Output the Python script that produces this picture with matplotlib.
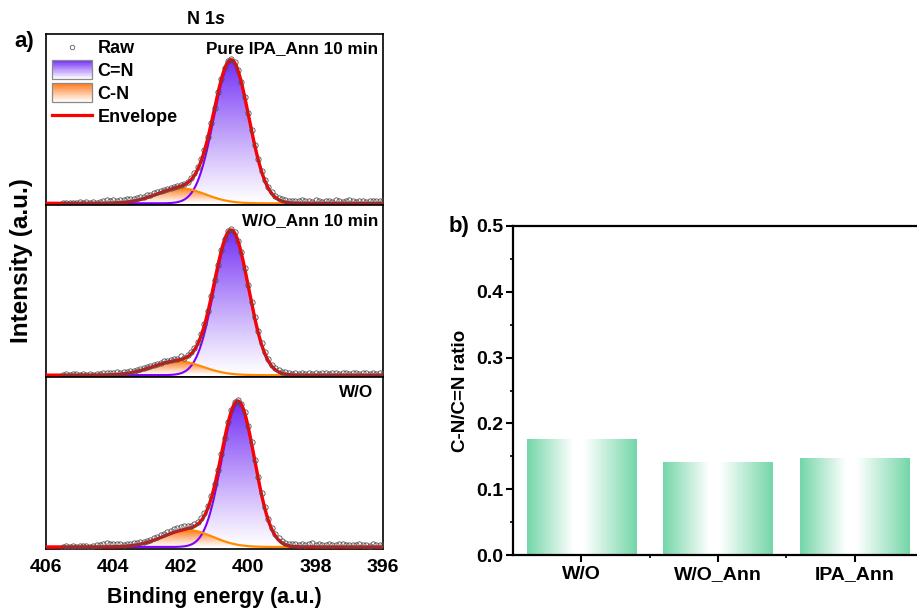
import numpy as np
import matplotlib
matplotlib.use('Agg')
import matplotlib.pyplot as plt
from matplotlib.colors import LinearSegmentedColormap, to_rgb
from matplotlib.patches import Rectangle
from matplotlib.lines import Line2D
from matplotlib.legend_handler import HandlerBase
from matplotlib.ticker import MultipleLocator, FixedLocator

plt.rcParams['font.family'] = ['Liberation Sans', 'DejaVu Sans']
plt.rcParams['font.weight'] = 'bold'
plt.rcParams['axes.labelweight'] = 'bold'

# ---------------- data ----------------
energy = [405.5, 405.4, 405.3, 405.2, 405.1, 405.0, 404.9, 404.8, 404.7, 404.6,
          404.5, 404.4, 404.3, 404.2, 404.1, 404.0, 403.9, 403.8, 403.7, 403.6,
          403.5, 403.4, 403.3, 403.2, 403.1, 403.0, 402.9, 402.8, 402.7, 402.6,
          402.5, 402.4, 402.3, 402.2, 402.1, 402.0, 401.9, 401.8, 401.7, 401.6,
          401.5, 401.4, 401.3, 401.2, 401.1, 401.0, 400.9, 400.8, 400.7, 400.6,
          400.5, 400.4, 400.3, 400.2, 400.1, 400.0, 399.9, 399.8, 399.7, 399.6,
          399.5, 399.4, 399.3, 399.2, 399.1, 399.0, 398.9, 398.8, 398.7, 398.6,
          398.5, 398.4, 398.3, 398.2, 398.1, 398.0, 397.9, 397.8, 397.7, 397.6,
          397.5, 397.4, 397.3, 397.2, 397.1, 397.0, 396.9, 396.8, 396.7, 396.6,
          396.5, 396.4, 396.3, 396.2, 396.1, 396.0]

raw_ipa_ann = [0.5, 0.3, 0.8, 0.2, 0.6, 1.2, 0.4, 0.9, 0.6, 1.1,
               0.8, 1.5, 2.8, 3.2, 2.4, 2.9, 2.1, 3.0, 3.5, 3.9,
               4.2, 4.6, 5.5, 6.1, 6.8, 7.9, 8.6, 9.9, 11.2, 12.3,
               13.4, 14.6, 15.2, 16.5, 17.0, 17.9, 19.0, 21.8, 25.2, 29.9,
               36.0, 44.1, 53.8, 66.0, 80.9, 95.5, 111.2, 124.5, 135.9, 142.3,
               144.5, 141.2, 133.1, 121.9, 106.8, 90.2, 73.6, 58.1, 44.0, 32.5,
               23.4, 16.2, 11.1, 7.6, 5.3, 3.9, 3.1, 2.2, 2.8, 1.9,
               2.4, 3.1, 2.0, 2.6, 1.7, 3.2, 2.5, 1.8, 2.7, 2.2,
               1.5, 2.9, 2.1, 1.6, 2.4, 3.0, 2.0, 1.4, 2.6, 2.3,
               1.7, 2.8, 2.1, 2.5, 1.9, 2.6]

raw_wo_ann = [0.4, 0.9, 0.3, 0.7, 1.3, 0.5, 0.8, 0.4, 1.0, 0.6,
              1.2, 0.9, 2.0, 2.6, 1.8, 2.3, 2.9, 2.4, 3.1, 2.8,
              3.9, 4.5, 5.2, 5.9, 7.0, 8.2, 9.3, 10.1, 11.6, 12.5,
              13.8, 14.3, 15.6, 16.4, 15.8, 18.9, 17.5, 20.2, 22.8, 27.4,
              33.0, 41.5, 51.2, 64.1, 79.0, 94.8, 110.5, 125.6, 136.4, 143.9,
              146.8, 142.9, 134.6, 122.8, 107.3, 90.6, 73.5, 57.9, 43.8, 32.1,
              22.9, 15.8, 10.6, 7.1, 4.8, 3.6, 2.9, 2.1, 1.6, 2.3,
              1.4, 1.9, 1.2, 2.1, 1.5, 2.4, 1.1, 1.8, 2.6, 1.3,
              1.9, 2.2, 1.0, 1.7, 2.4, 1.5, 1.9, 2.6, 1.2, 1.8,
              2.3, 1.4, 2.0, 1.6, 2.2, 1.5]

raw_wo = [0.3, 0.7, 0.4, 1.0, 0.5, 1.4, 0.6, 0.9, 0.5, 1.1,
          1.6, 2.1, 3.4, 3.9, 2.8, 3.3, 2.6, 3.0, 2.4, 2.9,
          3.1, 3.6, 4.0, 4.6, 5.3, 6.4, 7.5, 8.6, 10.0, 11.7,
          13.2, 15.0, 16.1, 17.9, 19.2, 20.4, 21.1, 20.6, 21.5, 23.0,
          25.1, 28.6, 33.9, 41.2, 50.8, 63.0, 77.4, 93.5, 109.6, 124.8,
          136.9, 144.9, 147.3, 143.4, 134.8, 121.5, 105.0, 87.2, 69.9, 53.6,
          39.6, 28.2, 19.4, 13.0, 8.7, 5.9, 4.1, 3.2, 2.6, 3.4,
          2.5, 3.1, 2.2, 2.8, 3.6, 2.4, 2.9, 1.9, 2.5, 3.2,
          2.1, 1.7, 2.6, 3.0, 2.0, 2.4, 1.6, 2.2, 2.9, 1.8,
          2.3, 1.5, 2.7, 2.0, 1.7, 2.4]

panel_labels = ['Pure IPA_Ann 10 min', 'W/O_Ann 10 min', 'W/O']
# fitted component parameters (C=N and C-N) per panel: centre (eV), height, FWHM (eV)
cdn_center = [400.5, 400.5, 400.3]
cdn_height = [142.0, 144.0, 144.0]
cdn_fwhm = [1.22, 1.20, 1.15]
csn_center = [402.0, 402.1, 401.8]
csn_height = [15.0, 14.0, 17.0]
csn_fwhm = [1.70, 1.74, 1.74]

be_ticks = [406, 404, 402, 400, 398, 396]

ratio_categories = ['W/O', 'W/O_Ann', 'IPA_Ann']
ratio_values = [0.176, 0.141, 0.147]

raw_sets = [raw_ipa_ann, raw_wo_ann, raw_wo]

# ---------------- styling ----------------
PURPLE_FILL = '#7430f5'
PURPLE_LINE = '#7f00ff'
ORANGE_FILL = '#ff7a1e'
ORANGE_LINE = '#ff8c00'
GREEN = '#74d6a8'

W, H = 917, 614
fig = plt.figure(figsize=(W / 100, H / 100), dpi=100)


def gauss(x, c, h, fwhm):
    s = fwhm / 2.3548
    return h * np.exp(-(x - c) ** 2 / (2 * s * s))


def gradient_fill(ax, x, y, color, zorder):
    poly = ax.fill_between(x, 0, y, facecolor='none', edgecolor='none')
    rgb = np.array(to_rgb(color))
    n = 256
    t = np.linspace(0, 1, n)[:, None, None] ** 1.1
    img = (1 - t) * np.ones((1, 1, 3)) + t * rgb[None, None, :]
    im = ax.imshow(img, origin='lower', aspect='auto',
                   extent=[x.min(), x.max(), 0, y.max()], zorder=zorder,
                   interpolation='bilinear')
    im.set_clip_path(poly.get_paths()[0], transform=ax.transData)


class GradientPatch:
    def __init__(self, color):
        self.color = color


class HandlerGradient(HandlerBase):
    def create_artists(self, legend, orig_handle, xdescent, ydescent,
                       width, height, fontsize, trans):
        n = 24
        h = height * 1.45
        y0 = -ydescent - (h - height) / 2
        rgb = np.array(to_rgb(orig_handle.color))
        arts = []
        for i in range(n):
            f = (i + 0.5) / n
            c = (1 - f) * np.ones(3) + f * rgb
            arts.append(Rectangle((-xdescent, y0 + i * h / n), width, h / n * 1.05,
                                  facecolor=c, edgecolor='none', transform=trans))
        arts.append(Rectangle((-xdescent, y0), width, h, facecolor='none',
                              edgecolor='#8a8a8a', lw=0.9, transform=trans))
        return arts


# ---------------- panel a ----------------
ax_left = 46 / W
ax_w = (383 - 46) / W
top_px, bot_px = 33.5, 549.0
ph = (bot_px - top_px) / 3
x_fit = np.linspace(406, 396, 1001)
e_arr = np.array(energy)

axes_a = []
for i in range(3):
    y_bottom = 1 - (top_px + (i + 1) * ph) / H
    ax = fig.add_axes([ax_left, y_bottom, ax_w, ph / H])
    axes_a.append(ax)
    cdn = gauss(x_fit, cdn_center[i], cdn_height[i], cdn_fwhm[i])
    csn = gauss(x_fit, csn_center[i], csn_height[i], csn_fwhm[i])
    env = cdn + csn
    gradient_fill(ax, x_fit, cdn, PURPLE_FILL, 1)
    gradient_fill(ax, x_fit, csn, ORANGE_FILL, 1.1)
    ax.plot(x_fit, cdn, color=PURPLE_LINE, lw=1.5, zorder=2)
    ax.plot(x_fit, csn, color=ORANGE_LINE, lw=1.6, zorder=2.1)
    ax.plot(x_fit, env, color='#ff0000', lw=2.4, zorder=3)
    ax.plot(e_arr, raw_sets[i], ls='none', marker='o', ms=3.8, mfc='none',
            mec='#505050', mew=0.6, zorder=4)
    ax.set_xlim(406, 396)
    ax.set_ylim(-2, 170)
    ax.set_yticks([])
    ax.tick_params(axis='x', length=0, labelsize=14, pad=7)
    ax.set_xticks(be_ticks)
    for sp in ax.spines.values():
        sp.set_linewidth(1.2)
    if i < 2:
        ax.tick_params(axis='x', labelbottom=False)
    xt = 0.985 if i < 2 else 0.97
    ax.text(xt, 0.91, panel_labels[i], transform=ax.transAxes, ha='right',
            va='center', fontsize=12.3, fontweight='bold')

axes_a[2].set_xticklabels([str(t) for t in be_ticks], fontweight='bold')

handles = [Line2D([], [], ls='none', marker='o', ms=3.2, mfc='none', mec='#606060', mew=0.6),
           GradientPatch(PURPLE_FILL), GradientPatch(ORANGE_FILL),
           Line2D([], [], color='#ff0000', lw=2.3)]
labels = ['Raw', 'C=N', 'C-N', 'Envelope']
leg = axes_a[0].legend(handles, labels, handler_map={GradientPatch: HandlerGradient()},
                       loc='upper left', bbox_to_anchor=(0.0, 1.0), frameon=False,
                       handlelength=2.2, handletextpad=0.3,
                       labelspacing=0.33, borderaxespad=0.15, borderpad=0.2,
                       prop={'weight': 'bold', 'size': 13})

# title N 1s
fig.text(215 / W, 1 - 20 / H, 'N 1', ha='right', va='center', fontsize=13,
         fontweight='bold')
fig.text(215 / W, 1 - 20 / H, 's', ha='left', va='center', fontsize=13,
         fontweight='bold', fontstyle='italic')

fig.text(24 / W, 1 - 42 / H, 'a)', ha='center', va='center', fontsize=16, fontweight='bold')
fig.text(22 / W, 1 - 261 / H, 'Intensity (a.u.)', rotation=90, ha='center', va='center',
         fontsize=17.5, fontweight='bold')
fig.text(214.5 / W, 1 - 598 / H, 'Binding energy (a.u.)', ha='center', va='center',
         fontsize=15.5, fontweight='bold')

# ---------------- panel b ----------------
bx0, bx1 = 513, 923
by_top, by_bot = 226, 555
axb = fig.add_axes([bx0 / W, 1 - by_bot / H, (bx1 - bx0) / W, (by_bot - by_top) / H])
xpos = np.arange(1, len(ratio_categories) + 1)
bars = axb.bar(xpos, ratio_values, width=0.8, facecolor='none', edgecolor='none')
bar_cmap = LinearSegmentedColormap.from_list(
    'bar', [(0.0, GREEN), (0.42, '#ffffff'), (0.52, '#ffffff'), (1.0, GREEN)])
grad = np.linspace(0, 1, 256)[None, :]
for b in bars:
    axb.imshow(grad, cmap=bar_cmap, aspect='auto', origin='lower',
               extent=[b.get_x(), b.get_x() + b.get_width(), 0, b.get_height()],
               zorder=1, interpolation='bilinear')
axb.set_xlim(0.5, 3.5)
axb.set_ylim(0, 0.5)
axb.set_xticks(xpos)
axb.set_xticklabels(ratio_categories, fontweight='bold')
axb.xaxis.set_minor_locator(FixedLocator([1.5, 2.5]))
axb.yaxis.set_major_locator(MultipleLocator(0.1))
axb.yaxis.set_minor_locator(MultipleLocator(0.05))
axb.tick_params(axis='both', which='major', direction='out', length=5, width=1.5,
                labelsize=14, pad=3)
axb.tick_params(axis='y', which='major', pad=2)
axb.tick_params(axis='both', which='minor', direction='out', length=2.5, width=1.2)
for lab in axb.get_yticklabels():
    lab.set_fontweight('bold')
for sp in axb.spines.values():
    sp.set_linewidth(1.6)
axb.set_ylabel('C-N/C=N ratio', fontsize=13.5, fontweight='bold', labelpad=5)
fig.text(459 / W, 1 - 227 / H, 'b)', ha='center', va='center', fontsize=16, fontweight='bold')

fig.savefig('out.png', dpi=100)
